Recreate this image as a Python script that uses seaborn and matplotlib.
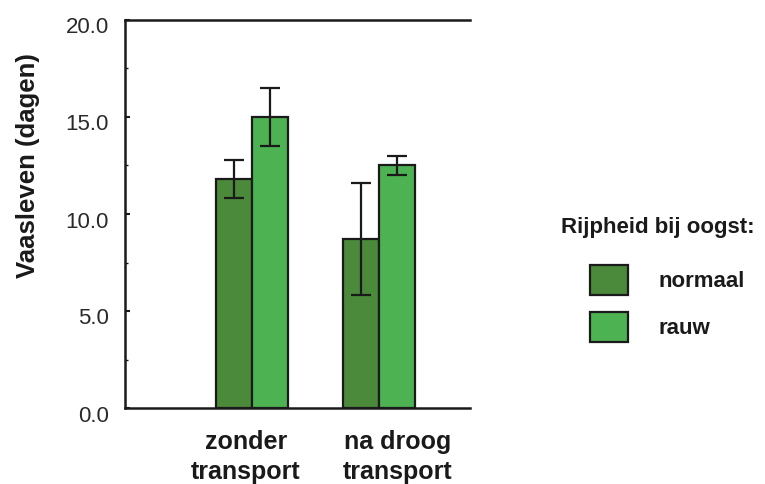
import matplotlib
matplotlib.use("Agg")
import matplotlib.pyplot as plt
import matplotlib.transforms as mtransforms
from matplotlib.ticker import MultipleLocator, FormatStrFormatter
import numpy as np
import pandas as pd
import seaborn as sns

# Vase life per transport condition and ripeness at harvest
conditions = ["zonder\ntransport", "na droog\ntransport"]
ripeness = ["normaal", "rauw"]
vase_life_normaal = [11.8, 8.7]
vase_life_rauw = [15.0, 12.5]
err_normaal = [1.0, 2.9]
err_rauw = [1.5, 0.5]
y_ticks = [0.0, 5.0, 10.0, 15.0, 20.0]

colors = {"normaal": "#4b8a3b", "rauw": "#4db352"}
ink = "#1a1a1a"

df = pd.DataFrame({
    "conditie": conditions * 2,
    "rijpheid": [ripeness[0]] * 2 + [ripeness[1]] * 2,
    "vaasleven": vase_life_normaal + vase_life_rauw,
    "fout": err_normaal + err_rauw,
})

sns.set_style("white")
plt.rcParams["font.family"] = ["Liberation Sans", "DejaVu Sans"]

fig = plt.figure(figsize=(7.65, 4.84), dpi=100)
ax = fig.add_axes([125 / 765, 76 / 484, 345 / 765, 388 / 484])

sns.barplot(data=df, x="conditie", y="vaasleven", hue="rijpheid",
            order=conditions, hue_order=ripeness, palette=colors,
            width=0.567, errorbar=None, edgecolor=ink, linewidth=1.6,
            saturation=1, ax=ax, legend=True)

# error bars at the centre of each drawn bar
for container, level in zip(ax.containers, ripeness):
    sub = df[df["rijpheid"] == level].set_index("conditie").loc[conditions]
    xs = [p.get_x() + p.get_width() / 2 for p in container.patches]
    ax.errorbar(xs, sub["vaasleven"].values, yerr=sub["fout"].values,
                fmt="none", ecolor=ink, elinewidth=1.6,
                capsize=7.5, capthick=1.6, zorder=5)

ax.set_xlim(-1.0, 1.72)
ax.set_ylim(0, 20)
ax.set_yticks(y_ticks)
ax.yaxis.set_major_formatter(FormatStrFormatter("%.1f"))
ax.yaxis.set_minor_locator(MultipleLocator(2.5))
ax.tick_params(axis="y", which="major", direction="in", length=3.5, width=1.5,
               left=True, labelsize=16, labelcolor="#2a2a2a", pad=11.5,
               color=ink)
ax.tick_params(axis="y", which="minor", direction="in", length=2, width=1.0,
               left=True, color=ink)
ax.tick_params(axis="x", length=0, pad=16)

# y tick labels sit slightly below their ticks
for lab in ax.get_yticklabels():
    lab.set_transform(lab.get_transform() +
                      mtransforms.ScaledTranslation(0, -0.055, fig.dpi_scale_trans))

for lab in ax.get_xticklabels():
    lab.set_fontsize(18)
    lab.set_fontweight("bold")
    lab.set_color(ink)
    lab.set_linespacing(1.3)
shifts = [-6, 19]
for lab, dx in zip(ax.get_xticklabels(), shifts):
    lab.set_transform(lab.get_transform() +
                      mtransforms.ScaledTranslation(dx / 100, 0, fig.dpi_scale_trans))

ax.set_xlabel("")
ax.set_ylabel("Vaasleven (dagen)", fontsize=18.5, fontweight="bold", color=ink)
ax.yaxis.set_label_coords(-0.245, 0.625)

for side in ["left", "top", "bottom"]:
    ax.spines[side].set_visible(True)
    ax.spines[side].set_linewidth(1.8)
    ax.spines[side].set_color(ink)
ax.spines["right"].set_visible(False)

handles, labels = ax.get_legend_handles_labels()
ax.get_legend().remove()
leg = fig.legend(handles, labels, loc="upper left",
                 bbox_to_anchor=(590 / 765, 1 - 265 / 484),
                 bbox_transform=fig.transFigure, frameon=False,
                 fontsize=16, borderpad=0, borderaxespad=0,
                 handlelength=1.71, handleheight=1.70, labelspacing=0.77,
                 handletextpad=1.35)
for t in leg.get_texts():
    t.set_fontweight("bold")
    t.set_color(ink)
for h in leg.legend_handles:
    h.set_edgecolor(ink)
    h.set_linewidth(1.6)
fig.text(658 / 765, 1 - 228 / 484, "Rijpheid bij oogst:", ha="center",
         va="center", fontsize=16, fontweight="bold", color=ink)

fig.savefig("out.png", dpi=100)
